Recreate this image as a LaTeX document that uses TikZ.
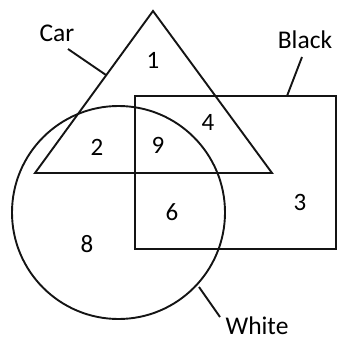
\documentclass[tikz,border=0pt]{standalone}
\usepackage{fontspec}
\setmainfont{Carlito}
\usetikzlibrary{calc}
\definecolor{LineClr}{rgb}{0.08,0.08,0.08}

\begin{document}
\begin{tikzpicture}[x=1pt,y=-1pt,line width=1.9pt,draw=LineClr]
\tikzset{
  setname/.style={font=\fontsize{25.5}{30}\selectfont,inner sep=0pt},
  region/.style={font=\fontsize{25}{30}\selectfont,inner sep=0pt}
}
\useasboundingbox (0,0) rectangle (338,339);

% shapes
\coordinate (A) at (153,11);
\coordinate (B) at (35,173);
\coordinate (C) at (272,173);
\coordinate (P) at (135,96);
\coordinate (Q) at (336,249);
\coordinate (O) at (118.5,212.5);

\draw (A) -- (B) -- (C) -- cycle;
\draw (P) rectangle (Q);
\draw (O) circle [radius=106.5pt];

% set names
\node[setname] (car) at (57,33) {Car};
\node[setname] (black) at (305,40) {Black};
\node[setname,anchor=base] (white) at (257,334) {White};

\coordinate (carE) at (106,75);
\coordinate (carS) at (68,49);
\coordinate (blackE) at (287,96);
\coordinate (blackS) at (302,57);
\coordinate (whiteE) at (199,287);
\coordinate (whiteS) at (220,317);

\draw (carS) -- (carE);
\draw (blackS) -- (blackE);
\draw (whiteE) -- (whiteS);

% regions
\node[region] (n1) at (153,60) {1};
\node[region] (n4) at (208,122) {4};
\node[region] (n2) at (97,147) {2};
\node[region] (n9) at (158,145) {9};
\node[region] (n6) at (172,212) {6};
\node[region] (n3) at (300,202) {3};
\node[region] (n8) at (87,244) {8};

\end{tikzpicture}
\end{document}
